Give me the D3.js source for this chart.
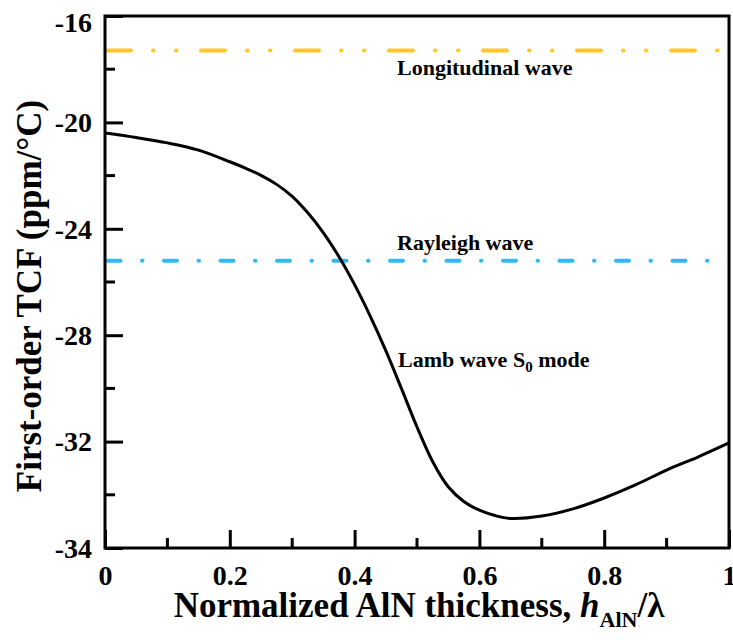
<!DOCTYPE html>
<html>
<head>
<meta charset="utf-8">
<script src="https://cdn.jsdelivr.net/npm/d3@7"></script>
<style>
  body { margin: 0; background: #fff; }
  svg { display: block; }
</style>
</head>
<body>
<svg id="chart" width="733" height="640"></svg>
<script>
// ---- data ----
const thickness = [0, 0.05, 0.10, 0.15, 0.20, 0.225, 0.25, 0.275, 0.30, 0.325, 0.35, 0.375, 0.40, 0.425, 0.45, 0.475, 0.50, 0.525, 0.55, 0.575, 0.60, 0.625, 0.65, 0.70, 0.75, 0.80, 0.85, 0.90, 0.95, 1.00];
const tcfLamb   = [-20.40, -20.57, -20.77, -21.04, -21.48, -21.72, -21.99, -22.33, -22.78, -23.40, -24.15, -25.05, -26.10, -27.28, -28.58, -30.00, -31.45, -32.75, -33.70, -34.25, -34.58, -34.78, -34.89, -34.80, -34.53, -34.12, -33.63, -33.07, -32.58, -32.05];
const tcfLongitudinal = -17.3;
const tcfRayleigh = -25.2;
const xTickValues = [0, 0.2, 0.4, 0.6, 0.8, 1];
const xTickLabels = ["0", "0.2", "0.4", "0.6", "0.8", "1"];
const xMinorValues = [0.1, 0.3, 0.5, 0.7, 0.9];
const yTickValues = [-16, -20, -24, -28, -32, -36];
const yTickLabels = ["-16", "-20", "-24", "-28", "-32", "-34"];
const yMinorValues = [-18, -22, -26, -30, -34];

// ---- layout ----
const FONT = "Liberation Serif";
const svg = d3.select("#chart");
const L = 105, R = 729, T = 16, B = 548;
const x = d3.scaleLinear().domain([0, 1]).range([L, R]);
const y = d3.scaleLinear().domain([-36, -16]).range([B, T]);

function styleText(sel, size) {
  return sel.attr("font-family", FONT).style("font-family", FONT)
    .style("font-weight", "bold").style("font-size", size + "px").style("fill", "#000");
}

// reference lines
svg.append("line")
  .attr("x1", x(0)).attr("x2", x(1))
  .attr("y1", y(tcfLongitudinal)).attr("y2", y(tcfLongitudinal))
  .attr("stroke", "#FFC629").attr("stroke-width", 4)
  .attr("stroke-linecap", "round")
  .attr("stroke-dasharray", "24 22 0.5 22.5 0.5 24.5")
  .attr("stroke-dashoffset", -2);

svg.append("line")
  .attr("x1", x(0)).attr("x2", x(1))
  .attr("y1", y(tcfRayleigh)).attr("y2", y(tcfRayleigh))
  .attr("stroke", "#33B8F5").attr("stroke-width", 4)
  .attr("stroke-linecap", "round")
  .attr("stroke-dasharray", "13 21.5 0.5 21.5")
  .attr("stroke-dashoffset", -2.5);

// curve
const pts = thickness.map((t, i) => [t, tcfLamb[i]]);
svg.append("path")
  .datum(pts)
  .attr("fill", "none")
  .attr("stroke", "#000")
  .attr("stroke-width", 3)
  .attr("stroke-linejoin", "round")
  .attr("d", d3.line().x(d => x(d[0])).y(d => y(d[1])).curve(d3.curveCatmullRom.alpha(0.5)));

// axes
const gx = svg.append("g").attr("transform", `translate(0,${B})`);
gx.call(d3.axisBottom(x).tickValues(xTickValues).tickFormat((d, i) => xTickLabels[i]).tickSizeInner(-18).tickSizeOuter(0).tickPadding(17));
gx.attr("font-family", FONT);
gx.call(g => g.select(".domain").remove());
gx.selectAll("line").attr("stroke", "#000").attr("stroke-width", 3);
styleText(gx.selectAll("text"), 28);
gx.selectAll(".minor").data(xMinorValues).enter().append("line")
  .attr("x1", d => x(d)).attr("x2", d => x(d)).attr("y1", 0).attr("y2", -10)
  .attr("stroke", "#000").attr("stroke-width", 3);

const gy = svg.append("g").attr("transform", `translate(${L},0)`);
gy.call(d3.axisLeft(y).tickValues(yTickValues).tickFormat((d, i) => yTickLabels[i]).tickSizeInner(-18).tickSizeOuter(0).tickPadding(13));
gy.attr("font-family", FONT);
gy.call(g => g.select(".domain").remove());
gy.selectAll("line").attr("stroke", "#000").attr("stroke-width", 3);
styleText(gy.selectAll("text"), 28).attr("dy", d => d === -16 ? "0.55em" : "0.33em");
gy.selectAll(".minor").data(yMinorValues).enter().append("line")
  .attr("x1", 0).attr("x2", 10).attr("y1", d => y(d)).attr("y2", d => y(d))
  .attr("stroke", "#000").attr("stroke-width", 3);

// frame
svg.append("rect")
  .attr("x", L).attr("y", T).attr("width", R - L).attr("height", B - T)
  .attr("fill", "none").attr("stroke", "#000").attr("stroke-width", 3);

// annotations
styleText(svg.append("text").attr("x", 397).attr("y", 75), 22).text("Longitudinal wave");
styleText(svg.append("text").attr("x", 397).attr("y", 250), 22).text("Rayleigh wave");
const lamb = styleText(svg.append("text").attr("x", 398).attr("y", 367), 22);
lamb.append("tspan").text("Lamb wave S");
lamb.append("tspan").style("font-size", "15px").attr("dy", 5).text("0");
lamb.append("tspan").attr("dy", -5).text(" mode");

// axis titles
const xt = styleText(svg.append("text").attr("x", 419).attr("y", 617).attr("text-anchor", "middle"), 35);
xt.append("tspan").text("Normalized AlN thickness, ");
xt.append("tspan").style("font-style", "italic").text("h");
xt.append("tspan").style("font-size", "22px").attr("dy", 10).text("AlN");
xt.append("tspan").attr("dy", -10).text("/λ");

styleText(svg.append("text")
  .attr("transform", "translate(41,296) rotate(-90)")
  .attr("text-anchor", "middle"), 35)
  .text("First-order TCF (ppm/°C)");
</script>
</body>
</html>
